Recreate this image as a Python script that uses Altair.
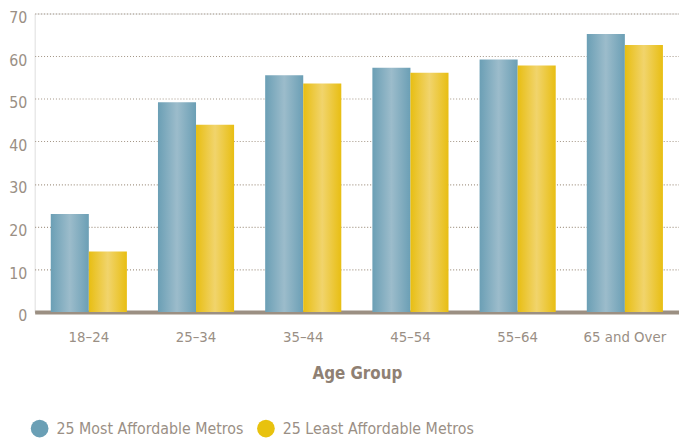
import altair as alt
import pandas as pd

ages = ["18–24", "25–34", "35–44", "45–54", "55–64", "65 and Over"]
series = ["25 Most Affordable Metros", "25 Least Affordable Metros"]
most = [23.0, 49.2, 55.5, 57.3, 59.2, 65.2]
least = [14.2, 43.9, 53.6, 56.1, 57.8, 62.6]
colors = ["#6a9fb5", "#e8c20e"]

rows = []
for a, m, l in zip(ages, most, least):
    rows.append({"age": a, "series": series[0], "value": m})
    rows.append({"age": a, "series": series[1], "value": l})
df = pd.DataFrame(rows)

FONT = "Liberation Sans Narrow, DejaVu Sans Condensed, Arial Narrow, sans-serif"
TXT = "#9a8f85"

x_enc = alt.X("age:N", sort=ages, title="Age Group",
              scale=alt.Scale(paddingInner=0.29, paddingOuter=0.15),
              axis=alt.Axis(labelAngle=0, ticks=False, domain=True, domainColor="#9b8f82",
                            domainWidth=4, grid=False, labelPadding=18, titlePadding=21,
                            labelFont=FONT, labelFontSize=15, labelColor=TXT,
                            titleFont=FONT, titleFontSize=17, titleFontWeight="bold",
                            titleColor="#8f8073"))
y_enc = alt.Y("value:Q", title=None,
              scale=alt.Scale(domain=[0, 70]),
              axis=alt.Axis(values=[0, 10, 20, 30, 40, 50, 60, 70], domain=False, ticks=False,
                            grid=True, gridColor="#a39585", gridDash=[1, 2], gridWidth=1.2,
                            labelPadding=8, labelOffset=4, labelFont=FONT, labelFontSize=16,
                            labelColor=TXT))
xo = alt.XOffset("series:N", sort=series, scale=alt.Scale(domain=series))

base = alt.Chart(df)

def grad(edge, mid):
    return alt.Gradient(gradient="linear", x1=0, x2=1, y1=0, y2=0,
                        stops=[alt.GradientStop(color=edge, offset=0),
                               alt.GradientStop(color=mid, offset=0.5),
                               alt.GradientStop(color=edge, offset=1)])

bars_most = base.transform_filter(alt.datum.series == series[0]).mark_bar(
    fill=grad("#6b9fb5", "#9cbccb"), strokeWidth=0).encode(x=x_enc, y=y_enc, xOffset=xo)
bars_least = base.transform_filter(alt.datum.series == series[1]).mark_bar(
    fill=grad("#e8be12", "#f1d46c"), strokeWidth=0).encode(x=x_enc, y=y_enc, xOffset=xo)

legend_layer = base.mark_point(filled=True, opacity=0).encode(
    x=x_enc, y=y_enc, xOffset=xo,
    color=alt.Color("series:N", sort=series,
                    scale=alt.Scale(domain=series, range=colors),
                    legend=alt.Legend(title=None, orient="none", direction="horizontal",
                                      legendX=-4, legendY=411,
                                      symbolType="circle", symbolSize=320, symbolOpacity=1,
                                      symbolStrokeWidth=0, labelLimit=0,
                                      labelFont=FONT, labelFontSize=16, labelColor=TXT,
                                      columnPadding=13, labelOffset=8)))

chart = alt.layer(bars_most, bars_least, legend_layer).properties(
    width=652, height=302,
    autosize=alt.AutoSizeParams(type="none"),
    padding={"left": 27, "top": 3, "right": 0, "bottom": 127}
).configure_view(stroke=None).configure(background="white")

chart.save("out.html", embed_options={"renderer": "svg", "actions": False})
